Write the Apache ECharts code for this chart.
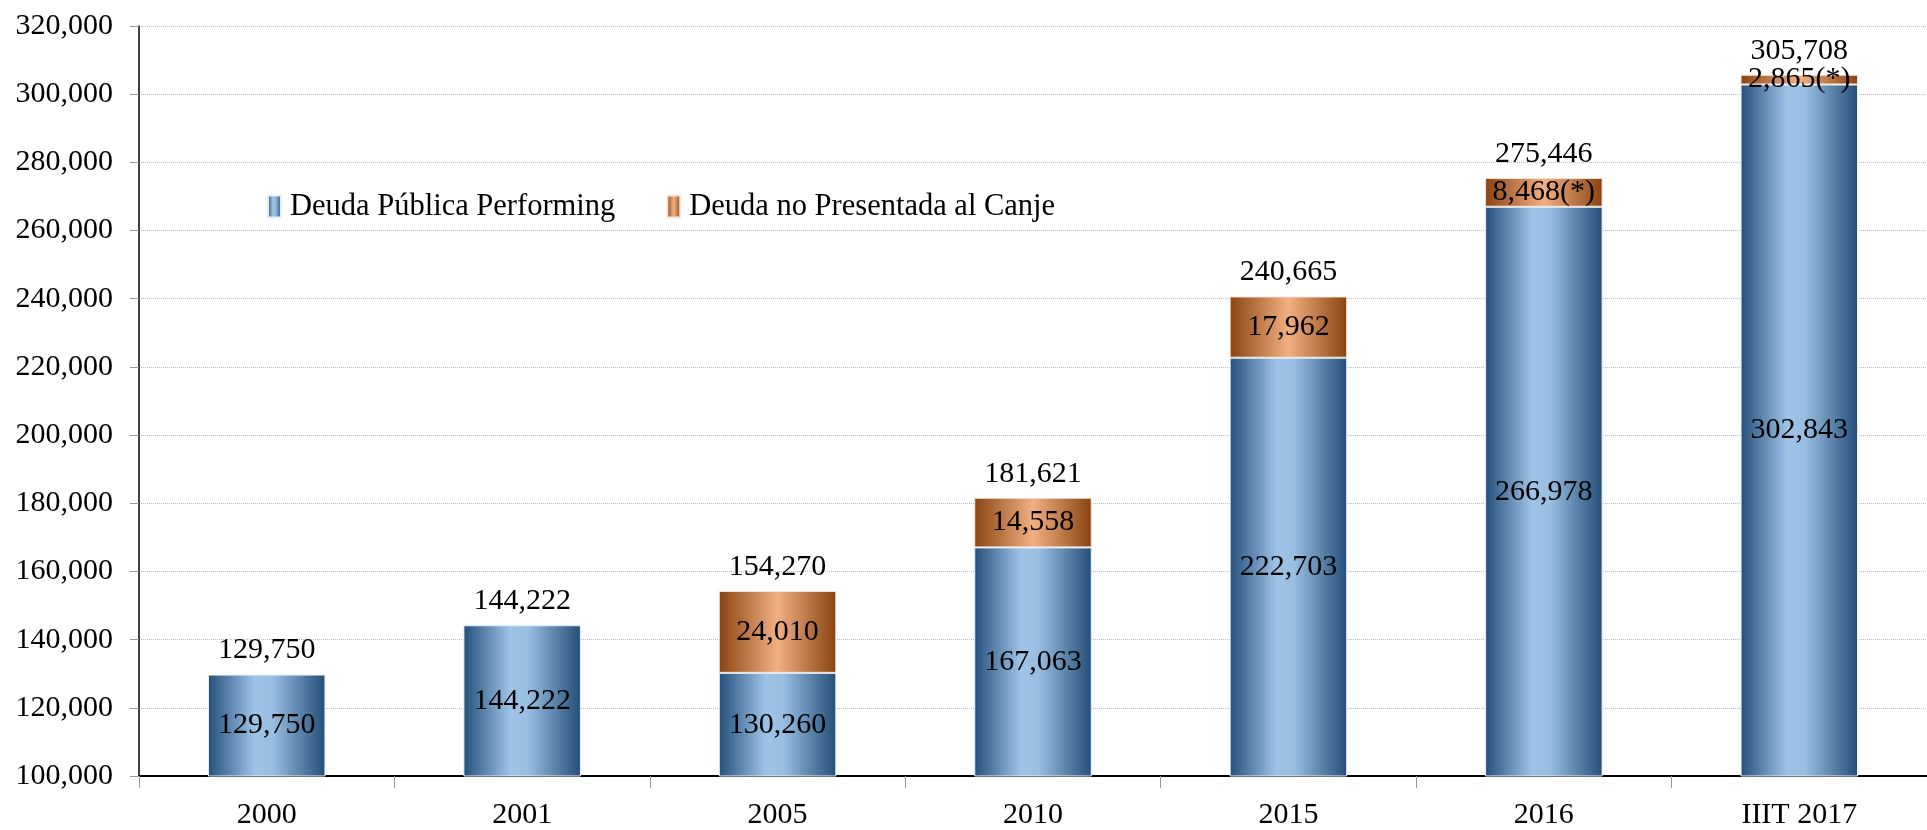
<!DOCTYPE html>
<html>
<head>
<meta charset="utf-8">
<script src="https://cdn.jsdelivr.net/npm/echarts@6/dist/echarts.min.js"></script>
<style>
  html, body { margin: 0; padding: 0; background: #fff; }
  #chart { width: 1927px; height: 830px; }
</style>
</head>
<body>
<div id="chart"></div>
<script>
// datos
const years = ["2000", "2001", "2005", "2010", "2015", "2016", "IIIT 2017"];
const performing = [129750, 144222, 130260, 167063, 222703, 266978, 302843];
const noPresentada = [null, null, 24010, 14558, 17962, 8468, 2865];
const noPresentadaLabels = ["", "", "24,010", "14,558", "17,962", "8,468(*)", "2,865(*)"];
const totals = [129750, 144222, 154270, 181621, 240665, 275446, 305708];
const yTicks = { min: 100000, max: 320000, interval: 20000 };

const fmt = (v) => v.toLocaleString("en-US");
const font = "Liberation Serif";

const blueGrad = new echarts.graphic.LinearGradient(0, 0, 1, 0, [
  { offset: 0, color: "#24507c" },
  { offset: 0.4, color: "#9ec3e7" },
  { offset: 0.55, color: "#98bee2" },
  { offset: 1, color: "#234e78" },
]);
const orangeGrad = new echarts.graphic.LinearGradient(0, 0, 1, 0, [
  { offset: 0, color: "#8a4412" },
  { offset: 0.5, color: "#f2af82" },
  { offset: 1, color: "#8a4310" },
]);

const myChart = echarts.init(document.getElementById("chart"));

const option = {
  animation: false,
  grid: { left: 139, right: 0, top: 26, bottom: 51 },
  legend: {
    data: ["Deuda Pública Performing", "Deuda no Presentada al Canje"],
    left: 262,
    top: 186,
    icon: "rect",
    itemWidth: 13,
    itemHeight: 22,
    itemGap: 51,
    textStyle: { fontFamily: font, fontSize: 30.5, color: "#000", padding: [0, 0, 0, 4] },
  },
  xAxis: {
    type: "category",
    data: years,
    axisLine: { lineStyle: { color: "#000", width: 2 } },
    axisTick: { show: true, length: 12, lineStyle: { color: "#999" } },
    axisLabel: { fontFamily: font, fontSize: 30, color: "#000", margin: 24 },
  },
  yAxis: {
    type: "value",
    min: yTicks.min,
    max: yTicks.max,
    interval: yTicks.interval,
    axisLine: { show: true, lineStyle: { color: "#000", width: 1.5 } },
    axisTick: { show: true, length: 9, lineStyle: { color: "#999" } },
    axisLabel: {
      fontFamily: font,
      fontSize: 30,
      color: "#000",
      margin: 26,
      formatter: (v) => fmt(v),
    },
    splitLine: { lineStyle: { color: "#bdbdbd", type: "dotted", width: 1 } },
  },
  series: [
    {
      name: "Deuda Pública Performing",
      type: "bar",
      stack: "deuda",
      barWidth: "46%",
      data: performing,
      itemStyle: { color: blueGrad, borderColor: "#e8eef5", borderWidth: 1 },
      label: {
        show: true,
        position: "inside",
        fontFamily: font,
        fontSize: 30,
        color: "#000",
        formatter: (p) => fmt(p.value),
      },
    },
    {
      name: "Deuda no Presentada al Canje",
      type: "bar",
      stack: "deuda",
      data: noPresentada,
      itemStyle: { color: orangeGrad, borderColor: "#f3e6dc", borderWidth: 1 },
      label: {
        show: true,
        position: "inside",
        fontFamily: font,
        fontSize: 30,
        color: "#000",
        formatter: (p) => noPresentadaLabels[p.dataIndex],
      },
    },
    {
      // barra vacia para poner el total encima
      name: "total",
      type: "bar",
      stack: "deuda",
      data: years.map(() => 0),
      itemStyle: { color: "transparent" },
      label: {
        show: true,
        position: "top",
        distance: 9,
        fontFamily: font,
        fontSize: 30,
        color: "#000",
        formatter: (p) => fmt(totals[p.dataIndex]),
      },
    },
  ],
};

myChart.setOption(option);
</script>
</body>
</html>
